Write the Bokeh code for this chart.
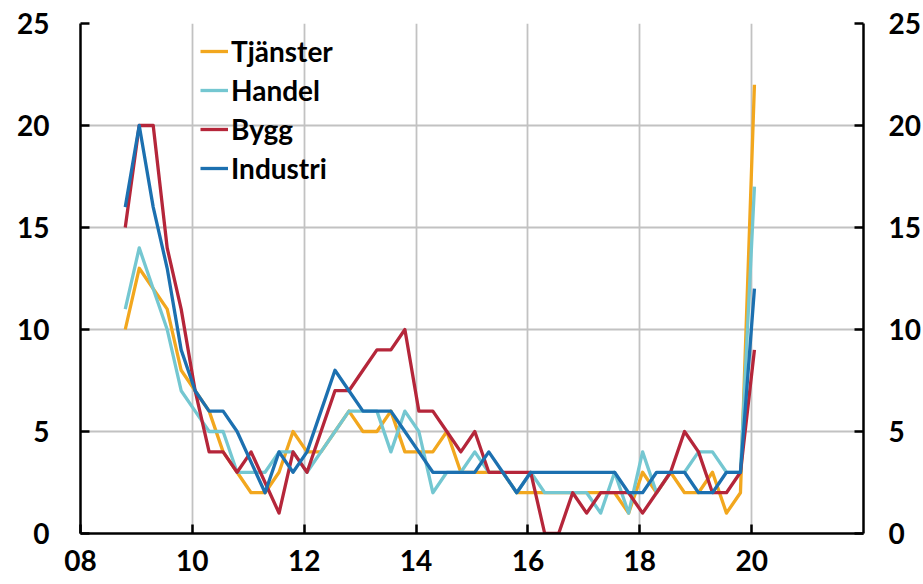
from bokeh.plotting import figure
from bokeh.models import Range1d, LinearAxis, FixedTicker, Legend, LegendItem
from bokeh.embed import file_html
from bokeh.resources import INLINE

# Quarterly data, 2008 Q4 .. 2020 Q1 (x in years since 2000)
first_quarter = 8.8
tjanster = [10, 13, 12, 11, 8, 7, 6, 4, 3, 2, 2, 3, 5, 4, 4, 5, 6, 5, 5, 6, 4, 4, 4, 5,
            3, 3, 3, 3, 2, 2, 2, 2, 2, 2, 2, 2, 1, 3, 2, 3, 2, 2, 3, 1, 2, 22]
handel = [11, 14, 12, 10, 7, 6, 5, 5, 3, 3, 3, 4, 4, 3, 4, 5, 6, 6, 6, 4, 6, 5, 2, 3,
          3, 4, 3, 3, 2, 3, 2, 2, 2, 2, 1, 3, 1, 4, 2, 3, 3, 4, 4, 3, 3, 17]
bygg = [15, 20, 20, 14, 11, 7, 4, 4, 3, 4, 2.5, 1, 4, 3, 5, 7, 7, 8, 9, 9, 10, 6, 6, 5,
        4, 5, 3, 3, 3, 3, 0, 0, 2, 1, 2, 2, 2, 1, 2, 3, 5, 4, 2, 2, 3, 9]
industri = [16, 20, 16, 13, 9, 7, 6, 6, 5, 3.5, 2, 4, 3, 4, 6, 8, 7, 6, 6, 6, 5, 4, 3, 3,
            3, 3, 4, 3, 2, 3, 3, 3, 3, 3, 3, 3, 2, 2, 3, 3, 3, 2, 2, 3, 3, 12]

series_names = ["Tjänster", "Handel", "Bygg", "Industri"]
series_values = [tjanster, handel, bygg, industri]
series_colors = ["#F2A71E", "#74C7D1", "#B5263A", "#1C70B0"]

x_ticks = [8, 10, 12, 14, 16, 18, 20]
x_tick_labels = ["08", "10", "12", "14", "16", "18", "20"]
y_ticks = [0, 5, 10, 15, 20, 25]

x = [first_quarter + 0.25 * i for i in range(len(tjanster))]

FONT = "Lato"
FS = "28px"

p = figure(width=923, height=584, output_backend="svg", toolbar_location=None,
           x_range=Range1d(8, 22), y_range=Range1d(0, 25),
           min_border_left=80, min_border_right=58, min_border_top=23,
           min_border_bottom=51, y_axis_location=None, x_axis_location=None)
p.outline_line_color = None
p.background_fill_color = "white"
p.border_fill_color = "white"


def style_axis(ax, standoff):
    ax.axis_line_color = "black"
    ax.axis_line_width = 2.5
    ax.major_tick_in = 9
    ax.major_tick_out = 0
    ax.major_tick_line_color = "black"
    ax.major_tick_line_width = 2.5
    ax.minor_tick_line_color = None
    ax.major_label_text_font = FONT
    ax.major_label_text_font_style = "bold"
    ax.major_label_text_font_size = FS
    ax.major_label_text_color = "black"
    ax.major_label_standoff = standoff


xa = LinearAxis(ticker=FixedTicker(ticks=x_ticks))
xa.major_label_overrides = {t: l for t, l in zip(x_ticks, x_tick_labels)}
style_axis(xa, 16)
p.add_layout(xa, "below")

ya = LinearAxis(ticker=FixedTicker(ticks=y_ticks))
style_axis(ya, 31)
p.add_layout(ya, "left")

ya2 = LinearAxis(ticker=FixedTicker(ticks=y_ticks))
style_axis(ya2, 25)
p.add_layout(ya2, "right")

p.xgrid.ticker = FixedTicker(ticks=x_ticks)
p.ygrid.ticker = FixedTicker(ticks=y_ticks)
p.xgrid.grid_line_color = "#C2C2C2"
p.ygrid.grid_line_color = "#C2C2C2"
p.xgrid.grid_line_width = 1.8
p.ygrid.grid_line_width = 1.8

items = []
for name, vals, col in zip(series_names, series_values, series_colors):
    r = p.line(x, vals, line_color=col, line_width=3.3, line_join="round")
    items.append(LegendItem(label=name, renderers=[r]))

legend = Legend(items=items, location=(120, 348), orientation="vertical",
                background_fill_alpha=0, border_line_color=None,
                label_text_font=FONT, label_text_font_style="bold",
                label_text_font_size=FS, label_text_color="black",
                glyph_width=28, glyph_height=30, label_height=30,
                label_standoff=3, spacing=5, padding=0, margin=0)
p.add_layout(legend, "center")

open("out.html", "w").write(file_html(p, INLINE))
